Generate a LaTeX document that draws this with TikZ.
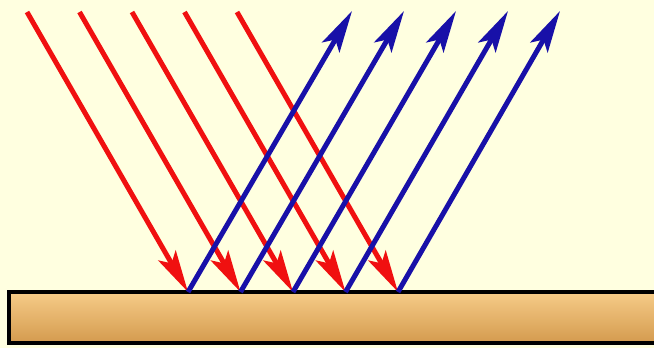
\documentclass[tikz,border=0pt]{standalone}
\usetikzlibrary{arrows.meta}
\definecolor{bgcream}{HTML}{FFFFE0}
\definecolor{rayred}{HTML}{F01010}
\definecolor{rayblue}{HTML}{1810A8}
\definecolor{bartop}{HTML}{F6CC88}
\definecolor{barbot}{HTML}{D49A4E}
\tikzset{
  redray/.style={draw=rayred, line width=5pt, -{Stealth[length=42pt,width=20pt,inset=9pt]}},
  blueray/.style={draw=rayblue, line width=5pt, -{Stealth[length=42pt,width=20pt,inset=9pt]}},
  surface/.style={draw=black, line width=3.2pt, top color=bartop, bottom color=barbot}
}
\begin{document}
\begin{tikzpicture}[x=1pt,y=-1pt]
\fill[bgcream] (0,0) rectangle (654,348);
\useasboundingbox (0,0) rectangle (654,348);
\path[surface] (9,292) rectangle (670,343);
\foreach \i in {0,...,4}{
  \coordinate (r\i) at ({27+52.5*\i},12);
  \coordinate (p\i) at ({188+52.5*\i},292);
  \coordinate (b\i) at ({352+52*\i},11);
}
\foreach \i in {0,...,4}{
  \draw[redray] (r\i) -- (p\i);
}
\foreach \i in {0,...,4}{
  \draw[blueray] (p\i) -- (b\i);
}
\end{tikzpicture}
\end{document}
